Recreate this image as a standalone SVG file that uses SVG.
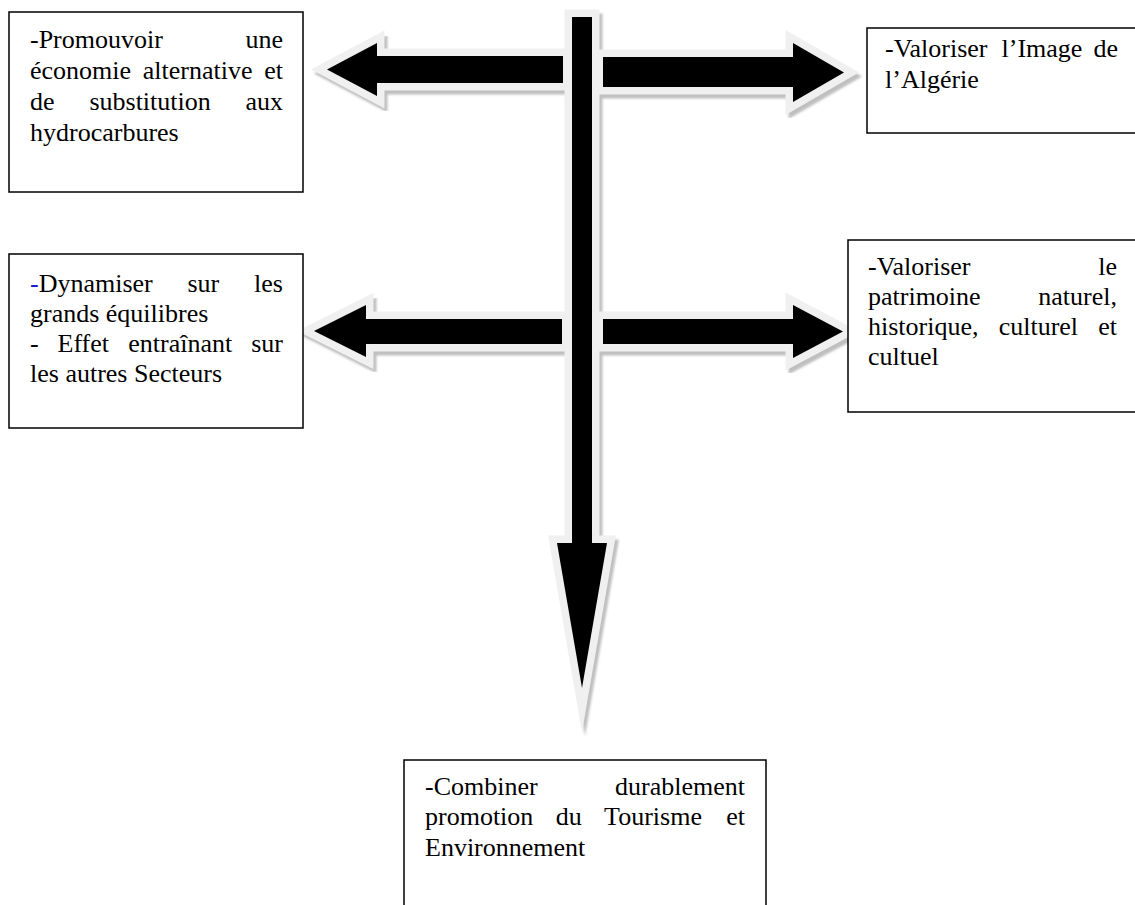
<svg xmlns="http://www.w3.org/2000/svg" xmlns:xlink="http://www.w3.org/1999/xlink" width="1135" height="905" viewBox="0 0 1135 905">
<style>
.bg{fill:#fff}
.box{fill:#fff;stroke:#000;stroke-width:1.5}
.t{font-family:'Liberation Serif','Times New Roman','DejaVu Serif',serif;font-size:26px;fill:#000}
.e{text-anchor:end}
.sh{fill:#bfbfbf;stroke:#bfbfbf;stroke-width:15;stroke-linejoin:miter;stroke-miterlimit:10;filter:url(#blur)}
.ol{fill:#f0f0f0;stroke:#f0f0f0;stroke-width:15;stroke-linejoin:miter;stroke-miterlimit:10}
.fg{fill:#000}
</style>
<defs>
<filter id="blur" x="-20%" y="-20%" width="140%" height="140%"><feGaussianBlur stdDeviation="1"/></filter>
<path id="aV" d="M572,17 L592,17 L592,543 L607,543 L582,688 L557,543 L572,543 Z"/>
<path id="aTL" d="M327,69.5 L377,43 L377,56 L563,56 L563,83 L377,83 L377,96 Z"/>
<path id="aTR" d="M603,57 L793,57 L793,43 L844,72.5 L793,102 L793,87 L603,87 Z"/>
<path id="aML" d="M314,331 L366,305 L366,319 L562,319 L562,344 L366,344 L366,357 Z"/>
<path id="aMR" d="M603,319 L793,319 L793,305 L843,331.5 L793,358 L793,344 L603,344 Z"/>
</defs>
<rect class="bg" x="0" y="0" width="1135" height="905"/>
<g id="connectors">
<g transform="translate(3,4)">
<use xlink:href="#aV" class="sh"/>
<use xlink:href="#aTL" class="sh"/>
<use xlink:href="#aTR" class="sh"/>
<use xlink:href="#aML" class="sh"/>
<use xlink:href="#aMR" class="sh"/>
</g>
<use xlink:href="#aV" class="ol"/>
<use xlink:href="#aTL" class="ol"/>
<use xlink:href="#aTR" class="ol"/>
<use xlink:href="#aML" class="ol"/>
<use xlink:href="#aMR" class="ol"/>
<use xlink:href="#aV" class="fg"/>
<use xlink:href="#aTL" class="fg"/>
<use xlink:href="#aTR" class="fg"/>
<use xlink:href="#aML" class="fg"/>
<use xlink:href="#aMR" class="fg"/>
</g>
<g id="node-promouvoir" font-family="Liberation Serif, serif">
<rect class="box" x="9" y="12" width="294" height="180"/>
<text class="t" x="30" y="48">-Promouvoir</text>
<text class="t e" x="283" y="48">une</text>
<text class="t" x="30" y="79">économie</text>
<text class="t" x="142.8" y="79">alternative</text>
<text class="t e" x="283" y="79">et</text>
<text class="t" x="30" y="110">de</text>
<text class="t" x="89.4" y="110">substitution</text>
<text class="t e" x="283" y="110">aux</text>
<text class="t" x="30" y="141">hydrocarbures</text>
</g>
<g id="node-image">
<rect class="box" x="867" y="28" width="280" height="105"/>
<text class="t" x="885" y="57">-Valoriser</text>
<text class="t" x="1001.5" y="57">l’Image</text>
<text class="t e" x="1118" y="57">de</text>
<text class="t" x="885" y="88">l’Algérie</text>
</g>
<g id="node-dynamiser">
<rect class="box" x="9" y="254" width="294" height="174"/>
<text class="t" x="30" y="292"><tspan fill="#1a1acc">-</tspan>Dynamiser</text>
<text class="t" x="187.5" y="292">sur</text>
<text class="t e" x="283" y="292">les</text>
<text class="t" x="30" y="322">grands équilibres</text>
<text class="t" x="30" y="352">-</text>
<text class="t" x="57.5" y="352">Effet</text>
<text class="t" x="128.3" y="352">entraînant</text>
<text class="t e" x="283" y="352">sur</text>
<text class="t" x="30" y="382">les autres Secteurs</text>
</g>
<g id="node-patrimoine">
<rect class="box" x="848" y="240" width="300" height="172"/>
<text class="t" x="868" y="275">-Valoriser</text>
<text class="t e" x="1117" y="275">le</text>
<text class="t" x="868" y="305">patrimoine</text>
<text class="t e" x="1117" y="305">naturel,</text>
<text class="t" x="868" y="335">historique,</text>
<text class="t" x="998.7" y="335">culturel</text>
<text class="t e" x="1117" y="335">et</text>
<text class="t" x="868" y="365">cultuel</text>
</g>
<g id="node-combiner">
<rect class="box" x="404" y="760" width="362" height="160"/>
<text class="t" x="425" y="795">-Combiner</text>
<text class="t e" x="745" y="795">durablement</text>
<text class="t" x="425" y="825">promotion</text>
<text class="t" x="555.7" y="825">du</text>
<text class="t" x="604.1" y="825">Tourisme</text>
<text class="t e" x="745" y="825">et</text>
<text class="t" x="425" y="856">Environnement</text>
</g>
</svg>
